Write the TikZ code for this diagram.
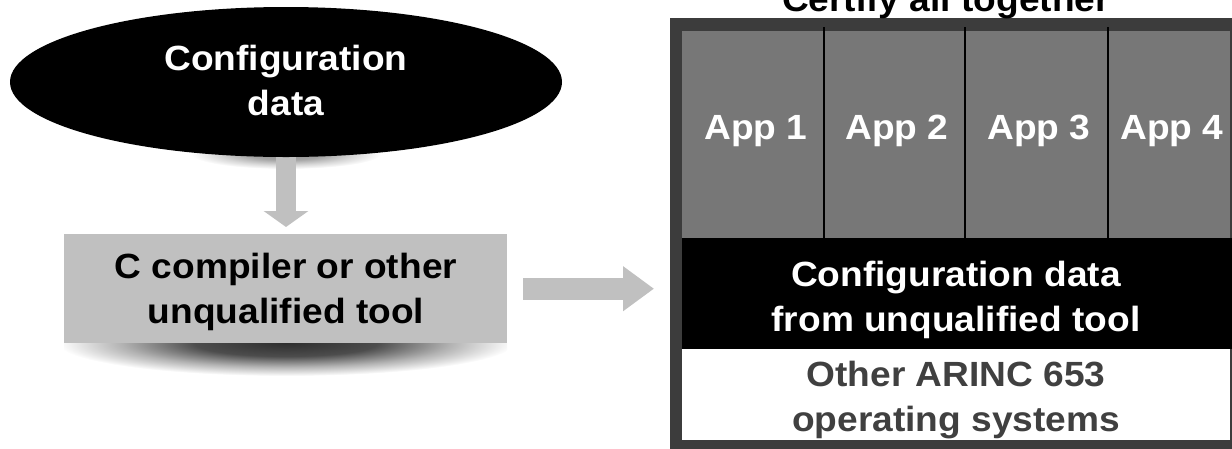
\documentclass[tikz,border=0pt]{standalone}
\usepackage{fontspec}
\setmainfont{Liberation Sans}
\usepackage{graphicx}
\usetikzlibrary{shapes.geometric,arrows.meta,backgrounds}

\definecolor{framegray}{HTML}{3C3C3C}
\definecolor{appgray}{HTML}{777777}
\definecolor{toolgray}{HTML}{C0C0C0}
\definecolor{ostext}{HTML}{404040}

% soft shadows: dark core fading to white at the shape's rim
\pgfdeclareradialshading{softshadow}{\pgfpoint{0bp}{0bp}}{%
  color(0bp)=(black!82); color(10bp)=(black!70); color(18bp)=(black!30);
  color(25bp)=(white); color(50bp)=(white)}
\pgfdeclareradialshading{lightshadow}{\pgfpoint{0bp}{0bp}}{%
  color(0bp)=(black!45); color(10bp)=(black!35); color(18bp)=(black!15);
  color(25bp)=(white); color(50bp)=(white)}

% slightly widened bold text, one or more centred lines
\newcommand{\widetext}[1]{\scalebox{1.06}[1]{\begin{tabular}{@{}c@{}}#1\end{tabular}}}
\newcommand{\wideline}[1]{\scalebox{1.06}[1]{#1}}

\begin{document}
\begin{tikzpicture}[x=1pt,y=-1pt,
  txt/.style={inner sep=0pt, font=\fontsize{35}{45}\selectfont\bfseries},
  applabel/.style={txt, text=white, anchor=base},
  panel/.style={draw=none, inner sep=0pt, anchor=north west},
  blockarrow/.style={line width=#1, draw=toolgray},
  divider/.style={draw=black, line width=2pt},
]
\useasboundingbox (0,0) rectangle (1232,448);

% ---- left part: configuration data feeding the tool
\node[ellipse, fill=black, minimum width=552pt, minimum height=150pt, inner sep=0pt] (cfg) at (286,82) {};
\node[txt, text=white] (cfgtxt) at (286,84) {\widetext{Configuration\\data}};

\node[panel, fill=toolgray, minimum width=443pt, minimum height=109pt] (tool) at (64,234) {};
\node[txt, text=black] (tooltxt) at (286,292) {\widetext{C compiler or other\\unqualified tool}};

% ---- right part: the certified stack
\node[panel, fill=framegray, minimum width=575pt, minimum height=437pt] (cert) at (670,18) {};
\node[panel, fill=appgray, minimum width=142pt, minimum height=207pt] (app1) at (682,31) {};
\node[panel, fill=appgray, minimum width=141pt, minimum height=207pt] (app2) at (824,31) {};
\node[panel, fill=appgray, minimum width=143pt, minimum height=207pt] (app3) at (965,31) {};
\node[panel, fill=appgray, minimum width=122pt, minimum height=207pt] (app4) at (1108,31) {};
\node[panel, fill=black, minimum width=550pt, minimum height=111pt] (band) at (682,238) {};
\node[panel, fill=white, minimum width=548pt, minimum height=91pt] (os) at (682,349) {};

\draw[divider] ([yshift=4pt]app1.north east) -- (app1.south east);
\draw[divider] ([yshift=4pt]app2.north east) -- (app2.south east);
\draw[divider] ([yshift=4pt]app3.north east) -- (app3.south east);

\node[applabel] (l1) at (756,139) {\wideline{App 1}};
\node[applabel] (l2) at (897,139) {\wideline{App 2}};
\node[applabel] (l3) at (1039,139) {\wideline{App 3}};
\node[applabel] (l4) at (1172,139) {\wideline{App 4}};

\node[txt, text=white] (bandtxt) at (956,300) {\widetext{Configuration data\\from unqualified tool}};
\node[txt, text=ostext] (ostxt) at (956,400) {\widetext{Other ARINC 653\\operating systems}};

\node[txt, anchor=base] (title) at (946,11) {\wideline{Certify all together}};

% ---- shadows and block arrows behind everything
\begin{pgfonlayer}{background}
  \shade[shading=lightshadow] (286,154) ellipse [x radius=95, y radius=15];
  \begin{scope}
    \clip (64,343) rectangle (507,392);
    \shade[shading=softshadow] (286,343) ellipse [x radius=228, y radius=33];
  \end{scope}
  \draw[blockarrow=20pt, -{Triangle[length=16pt,width=44pt]}, shorten >=7pt]
    (cfg.center) -- (cfg.center |- tool.north);
  \draw[blockarrow=22pt, -{Triangle[length=31pt,width=43pt]}, shorten <=16pt, shorten >=16pt]
    (tool.east) -- (tool.east -| cert.west);
\end{pgfonlayer}
\end{tikzpicture}
\end{document}
